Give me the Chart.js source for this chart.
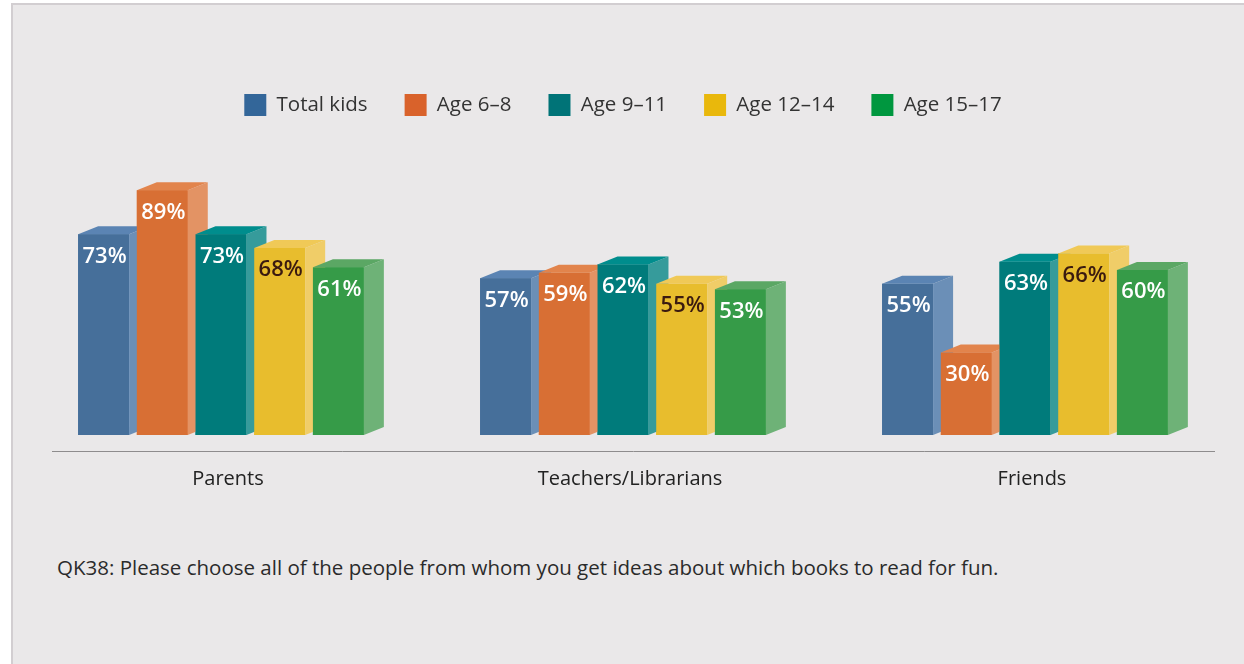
<!DOCTYPE html>
<html>
<head>
<meta charset="utf-8">
<script src="https://cdn.jsdelivr.net/npm/chart.js@4/dist/chart.umd.min.js"></script>
<style>
  html, body { margin: 0; padding: 0; background: #ffffff; }
  body { width: 1244px; height: 664px; position: relative; overflow: hidden; }
  .panel {
    position: absolute; left: 11px; top: 3px; right: 0; bottom: 0;
    background: #eae8e9;
    border-top: 2px solid #d2ced1;
    border-left: 2px solid #d2ced1;
  }
  .note {
    position: absolute; left: 57px; top: 553px;
    font-family: "Open Sans", sans-serif;
    font-size: 20.5px; color: #2b2b2b;
  }
  #chart { position: absolute; left: 0; top: 0; }
</style>
</head>
<body>
<div class="panel"></div>
<div class="note">QK38: Please choose all of the people from whom you get ideas about which books to read for fun.</div>
<canvas id="chart" width="1244" height="664"></canvas>
<script>
// categorias e séries
const categories = ['Parents', 'Teachers/Librarians', 'Friends'];
const seriesNames = ['Total kids', 'Age 6–8', 'Age 9–11', 'Age 12–14', 'Age 15–17'];
const totalKids = [73, 57, 55];
const age6to8 = [89, 59, 30];
const age9to11 = [73, 62, 63];
const age12to14 = [68, 55, 66];
const age15to17 = [61, 53, 60];

// cores: frente, lado, topo, legenda, texto do rótulo
const frontColors = ['#466f9a', '#d86f34', '#007b7b', '#e8bd2d', '#369b48'];
const sideColors = ['#6b8fb7', '#e39364', '#369b9b', '#f0cd68', '#6eb277'];
const topColors = ['#5b84b3', '#e2844c', '#008d8d', '#f0c957', '#5ba764'];
const legendColors = ['#336699', '#d9622b', '#007377', '#e9b80c', '#00973f'];
const labelColors = ['#ffffff', '#ffffff', '#ffffff', '#3a1a10', '#ffffff'];

const allSeries = [totalKids, age6to8, age9to11, age12to14, age15to17];
const DEPTH_X = 20;
const DEPTH_Y = 8;

// plugin que desenha as barras em 3D e os rótulos
const bars3d = {
    id: 'bars3d',
    afterDatasetsDraw(chart) {
        const ctx = chart.ctx;
        ctx.save();
        chart.data.datasets.forEach((ds, di) => {
            const meta = chart.getDatasetMeta(di);
            meta.data.forEach((bar) => {
                const left = bar.x - bar.width / 2;
                const right = bar.x + bar.width / 2;
                const top = bar.y;
                const base = bar.base;
                // frente
                ctx.fillStyle = frontColors[di];
                ctx.fillRect(left, top, right - left, base - top);
                // lado
                ctx.fillStyle = sideColors[di];
                ctx.beginPath();
                ctx.moveTo(right, top);
                ctx.lineTo(right + DEPTH_X, top - DEPTH_Y);
                ctx.lineTo(right + DEPTH_X, base - DEPTH_Y);
                ctx.lineTo(right, base);
                ctx.closePath();
                ctx.fill();
                // topo
                ctx.fillStyle = topColors[di];
                ctx.beginPath();
                ctx.moveTo(left, top);
                ctx.lineTo(left + DEPTH_X, top - DEPTH_Y);
                ctx.lineTo(right + DEPTH_X, top - DEPTH_Y);
                ctx.lineTo(right, top);
                ctx.closePath();
                ctx.fill();
            });
        });
        // rótulos
        ctx.font = '600 22px "Open Sans", sans-serif';
        ctx.textAlign = 'center';
        ctx.textBaseline = 'middle';
        chart.data.datasets.forEach((ds, di) => {
            const meta = chart.getDatasetMeta(di);
            meta.data.forEach((bar, i) => {
                ctx.fillStyle = labelColors[di];
                ctx.fillText(allSeries[di][i] + '%', bar.x + 1, bar.y + 22);
            });
        });
        // linha do eixo
        ctx.strokeStyle = '#8e8c8d';
        ctx.lineWidth = 1;
        ctx.beginPath();
        ctx.moveTo(52, chart.chartArea.bottom + 0.5);
        ctx.lineTo(1215, chart.chartArea.bottom + 0.5);
        ctx.stroke();
        ctx.restore();
    }
};

const ctx = document.getElementById('chart').getContext('2d');
new Chart(ctx, {
    type: 'bar',
    data: {
        labels: categories,
        datasets: allSeries.map((values, i) => ({
            label: seriesNames[i],
            data: values,
            backgroundColor: frontColors[i],
            borderWidth: 0,
            categoryPercentage: 0.73,
            barPercentage: 0.868
        }))
    },
    options: {
        responsive: false,
        animation: false,
        devicePixelRatio: 1,
        layout: { padding: { top: 57, left: 20, right: 18, bottom: 157 } },
        plugins: {
            tooltip: { enabled: false },
            legend: {
                position: 'top',
                labels: {
                    boxWidth: 22,
                    boxHeight: 22,
                    padding: 37,
                    color: '#333333',
                    font: { family: '"Open Sans", sans-serif', size: 20.5 },
                    generateLabels(chart) {
                        const items = Chart.defaults.plugins.legend.labels.generateLabels(chart);
                        items.forEach((it) => {
                            it.fillStyle = legendColors[it.datasetIndex];
                            it.strokeStyle = legendColors[it.datasetIndex];
                            it.lineWidth = 0;
                        });
                        return items;
                    }
                }
            }
        },
        scales: {
            x: {
                grid: { display: false, drawTicks: false },
                border: { display: false },
                ticks: {
                    color: '#222222',
                    padding: 16,
                    labelOffset: 7,
                    font: { family: '"Open Sans", sans-serif', size: 20 }
                }
            },
            y: {
                display: false,
                min: -5.82,
                max: 112.36
            }
        }
    },
    plugins: [bars3d]
});
</script>
</body>
</html>
